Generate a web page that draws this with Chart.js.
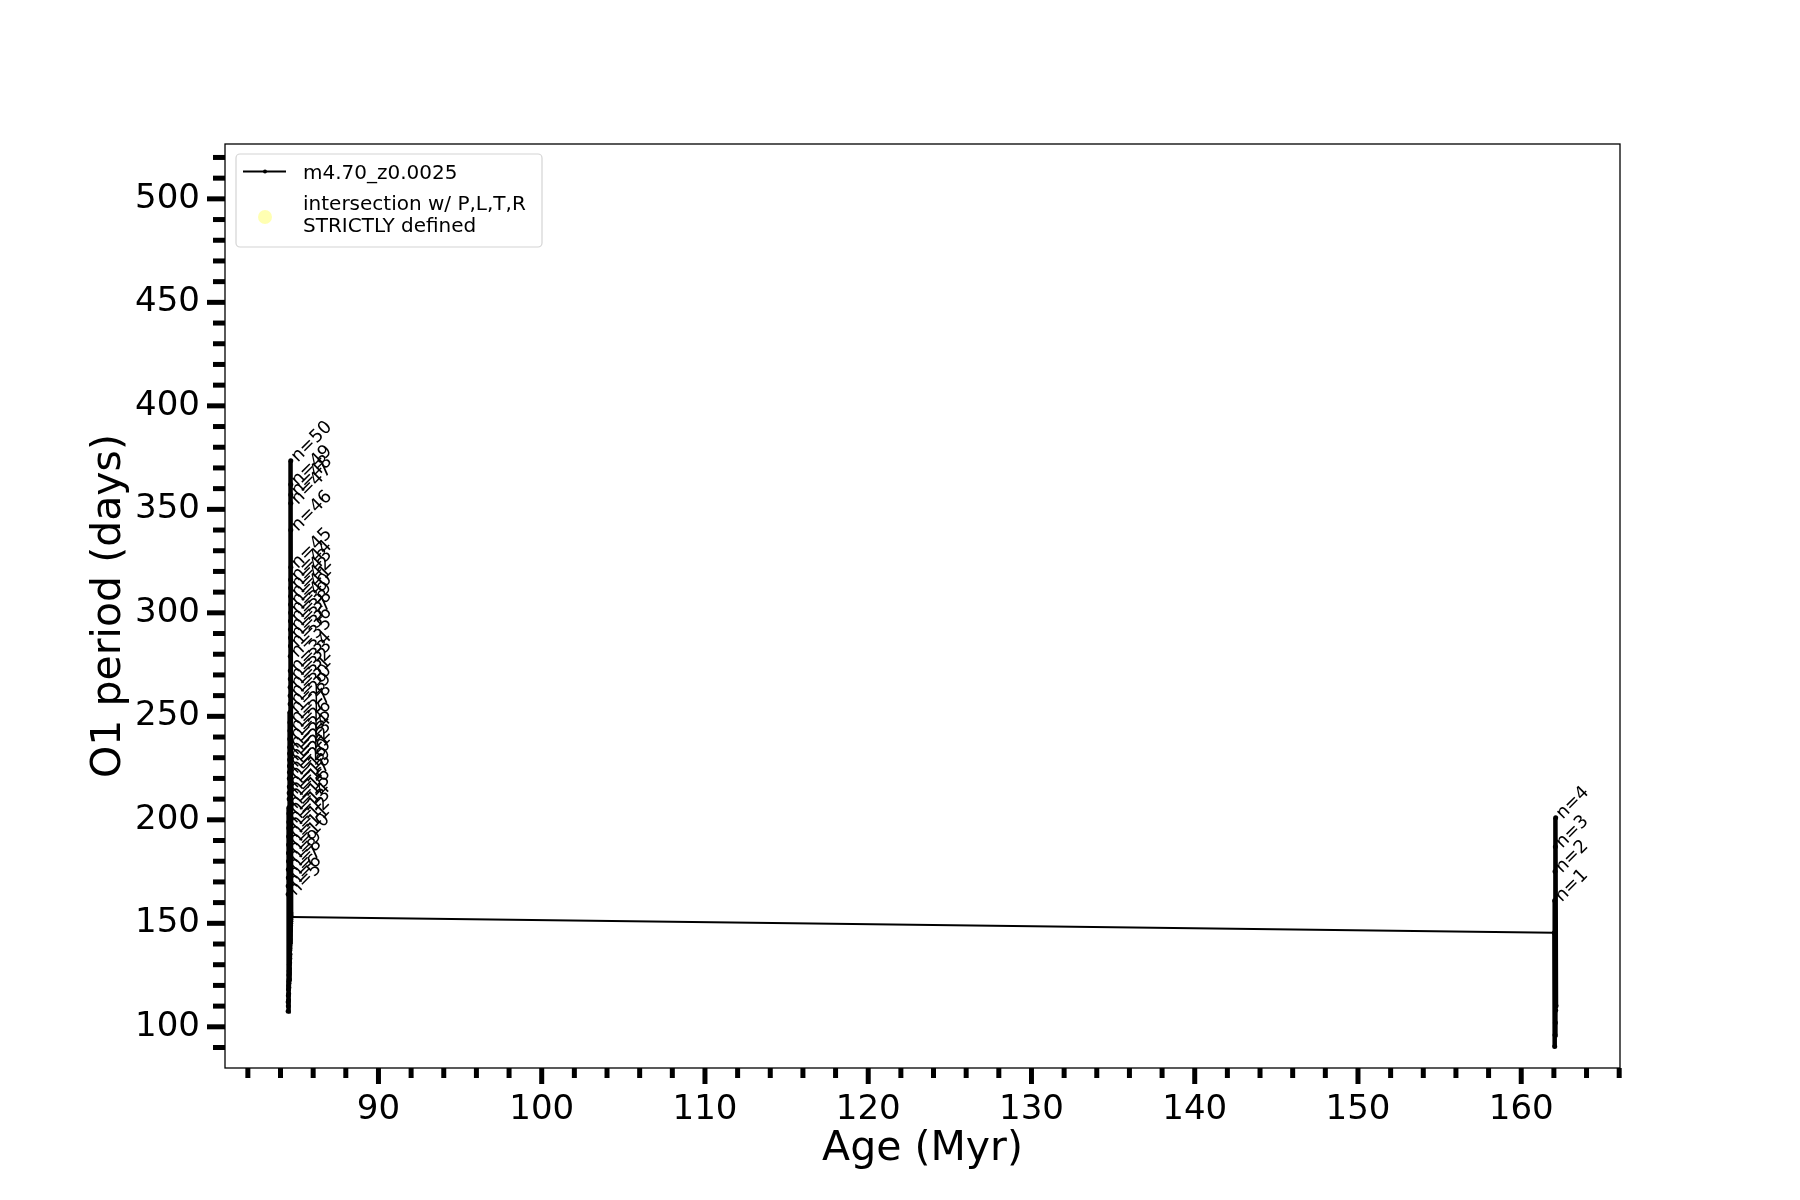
<!DOCTYPE html>
<html>
<head>
<meta charset="utf-8">
<title>O1 period vs age</title>
<script src="https://cdn.jsdelivr.net/npm/chart.js@4.4.1/dist/chart.umd.min.js"></script>
<style>
  html, body { margin: 0; padding: 0; background: #fff; }
  #wrap { width: 1800px; height: 1200px; }
</style>
</head>
<body>
<div id="wrap"><canvas id="periodChart" width="1800" height="1200"></canvas></div>
<script>
// pulse data, left group (n=5..50)
const leftN = [5, 6, 7, 8, 9, 10, 11, 12, 13, 14, 15, 16, 17, 18, 19, 20, 21, 22, 23, 24, 25, 26, 27,
  28, 29, 30, 31, 32, 33, 34, 35, 36, 37, 38, 39, 40, 41, 42, 43, 44, 45, 46, 47, 48, 49, 50];
const leftAge = [84.47, 84.47, 84.48, 84.48, 84.49, 84.49, 84.50, 84.50, 84.51, 84.51,
  84.52, 84.52, 84.53, 84.53, 84.54, 84.54, 84.55, 84.55, 84.56, 84.56,
  84.57, 84.57, 84.58, 84.58, 84.58, 84.59, 84.59, 84.59, 84.60, 84.60,
  84.60, 84.61, 84.61, 84.61, 84.61, 84.62, 84.62, 84.62, 84.62, 84.62,
  84.63, 84.63, 84.63, 84.63, 84.63, 84.63];
const leftTrough = [107.5, 112, 110, 115, 113, 118, 116, 120, 119, 122,
  121, 125, 123, 127, 126, 130, 128, 132, 131, 134,
  133, 137, 135, 139, 138, 141, 140, 143, 142, 145,
  144, 147, 146, 148, 147, 150, 149, 151, 150, 152,
  151, 153, 152, 154, 153, 155];
const leftPeak = [164, 168, 172, 176, 180, 184, 188, 192, 196, 199,
  203, 206, 210, 213, 216, 220, 223, 226, 229, 232,
  235, 239, 243, 247, 252, 256, 260, 264, 268, 272,
  279, 284, 288, 292, 296, 300, 304, 308, 312, 316,
  322, 340, 353, 357, 362, 373.5];
const leftEnd = [84.65, 153];

// right group (n=1..4)
const rightN = [1, 2, 3, 4];
const rightStart = [162.03, 145.5];
const rightAge = [162.05, 162.07, 162.09, 162.11];
const rightTrough = [90.5, 96, 102, 108];
const rightPeak = [161, 175, 187, 201];
const rightEnd = [162.13, 110];

// axes
const xRange = [80.6, 166.05];
const yRange = [80.1, 526.5];
const xMajor = [90, 100, 110, 120, 130, 140, 150, 160];
const xMinor = [82, 84, 86, 88, 92, 94, 96, 98, 102, 104, 106, 108, 112, 114, 116, 118, 122, 124, 126, 128,
  132, 134, 136, 138, 142, 144, 146, 148, 152, 154, 156, 158, 162, 164, 166];
const yMajor = [100, 150, 200, 250, 300, 350, 400, 450, 500];
const yMinor = [90, 110, 120, 130, 140, 160, 170, 180, 190, 210, 220, 230, 240, 260, 270, 280, 290,
  310, 320, 330, 340, 360, 370, 380, 390, 410, 420, 430, 440, 460, 470, 480, 490, 510, 520];

const FONT = '"DejaVu Sans", "Liberation Sans", sans-serif';

// build the track in order: left pulses, jump, right pulses
const trackPoints = [];
leftAge.forEach(function(a, i) {
    trackPoints.push({ x: a, y: leftTrough[i] });
    trackPoints.push({ x: a, y: leftPeak[i] });
});
trackPoints.push({ x: leftEnd[0], y: leftEnd[1] });
trackPoints.push({ x: rightStart[0], y: rightStart[1] });
rightAge.forEach(function(a, i) {
    trackPoints.push({ x: a, y: rightTrough[i] });
    trackPoints.push({ x: a, y: rightPeak[i] });
});
trackPoints.push({ x: rightEnd[0], y: rightEnd[1] });

const pulseLabels = [];
leftN.forEach(function(n, i) { pulseLabels.push({ n: n, x: leftAge[i], y: leftPeak[i] }); });
rightN.forEach(function(n, i) { pulseLabels.push({ n: n, x: rightAge[i], y: rightPeak[i] }); });

const sortedX = xMajor.concat(xMinor).sort(function(a, b) { return a - b; });
const sortedY = yMajor.concat(yMinor).sort(function(a, b) { return a - b; });

// ticks, frame, labels, titles and legend
const decorPlugin = {
    id: 'decor',
    afterDatasetsDraw: function(chart) {
        const c = chart.ctx, xs = chart.scales.x, ys = chart.scales.y;
        c.save();
        c.fillStyle = '#000';
        c.font = '18px ' + FONT;
        c.textAlign = 'left';
        c.textBaseline = 'alphabetic';
        pulseLabels.forEach(function(p) {
            const px = xs.getPixelForValue(p.x), py = ys.getPixelForValue(p.y);
            c.save();
            c.translate(px + 7, py + 2);
            c.rotate(-Math.PI / 4);
            c.fillText('n=' + p.n, 0, 0);
            c.restore();
        });
        c.restore();
    },
    afterDraw: function(chart) {
        const c = chart.ctx, a = chart.chartArea;
        const xs = chart.scales.x, ys = chart.scales.y;
        c.save();
        c.strokeStyle = '#000';
        c.lineWidth = 1.3;
        c.strokeRect(a.left, a.top, a.right - a.left, a.bottom - a.top);

        c.lineWidth = 5;
        c.lineCap = 'butt';
        function tick(x1, y1, x2, y2) {
            c.beginPath(); c.moveTo(x1, y1); c.lineTo(x2, y2); c.stroke();
        }
        xMajor.forEach(function(v) { const p = xs.getPixelForValue(v); tick(p, a.bottom, p, a.bottom + 16); });
        xMinor.forEach(function(v) { const p = xs.getPixelForValue(v); tick(p, a.bottom, p, a.bottom + 10); });
        yMajor.forEach(function(v) { const p = ys.getPixelForValue(v); tick(a.left, p, a.left - 18, p); });
        yMinor.forEach(function(v) { const p = ys.getPixelForValue(v); tick(a.left, p, a.left - 12, p); });

        // axis titles
        c.fillStyle = '#000';
        c.font = '41px ' + FONT;
        c.textAlign = 'center';
        c.textBaseline = 'alphabetic';
        c.fillText('Age (Myr)', (a.left + a.right) / 2, 1160);
        c.save();
        c.translate(120, (a.top + a.bottom) / 2);
        c.rotate(-Math.PI / 2);
        c.fillText('O1 period (days)', 0, 0);
        c.restore();

        // legend
        const lx = 236, ly = 154, lw = 306, lh = 93, r = 4;
        c.beginPath();
        c.moveTo(lx + r, ly);
        c.arcTo(lx + lw, ly, lx + lw, ly + lh, r);
        c.arcTo(lx + lw, ly + lh, lx, ly + lh, r);
        c.arcTo(lx, ly + lh, lx, ly, r);
        c.arcTo(lx, ly, lx + lw, ly, r);
        c.closePath();
        c.fillStyle = 'rgba(255,255,255,0.8)';
        c.fill();
        c.strokeStyle = '#d4d4d4';
        c.lineWidth = 1.2;
        c.stroke();

        c.strokeStyle = '#000';
        c.lineWidth = 2;
        tick(243, 171.5, 286, 171.5);
        c.fillStyle = '#000';
        c.beginPath(); c.arc(265, 171.5, 2, 0, Math.PI * 2); c.fill();
        c.fillStyle = 'rgba(255,255,0,0.3)';
        c.beginPath(); c.arc(265, 217, 7, 0, Math.PI * 2); c.fill();

        c.fillStyle = '#000';
        c.font = '20px ' + FONT;
        c.textAlign = 'left';
        c.fillText(chart.data.datasets[0].label, 303, 179);
        c.fillText('intersection w/ P,L,T,R', 303, 210);
        c.fillText('STRICTLY defined', 303, 232);
        c.restore();
    }
};

const ctx = document.getElementById('periodChart').getContext('2d');
const periodChart = new Chart(ctx, {
    type: 'scatter',
    data: {
        datasets: [{
            label: 'm4.70_z0.0025',
            data: trackPoints,
            showLine: true,
            borderColor: '#000',
            borderWidth: 2,
            pointRadius: 2.5,
            pointBorderWidth: 0,
            pointBackgroundColor: '#000',
            segment: {
                // dense pulse segments look heavier than the long jump
                borderWidth: function(s) { return Math.abs(s.p1.parsed.x - s.p0.parsed.x) > 1 ? 2 : 4.5; }
            }
        }, {
            label: 'intersection w/ P,L,T,R\nSTRICTLY defined',
            data: [],
            pointRadius: 7,
            backgroundColor: 'rgba(255,255,0,0.3)'
        }]
    },
    options: {
        responsive: false,
        animation: false,
        events: [],
        layout: { padding: { left: 0, top: 144, right: 180, bottom: 0 } },
        plugins: {
            legend: { display: false },
            tooltip: { enabled: false }
        },
        scales: {
            x: {
                type: 'linear',
                min: xRange[0],
                max: xRange[1],
                afterBuildTicks: function(s) { s.ticks = sortedX.map(function(v) { return { value: v }; }); },
                afterFit: function(s) { s.height = 132; },
                border: { display: false },
                grid: { drawOnChartArea: false, tickLength: 16, tickColor: 'rgba(0,0,0,0)' },
                ticks: {
                    autoSkip: false, maxRotation: 0, minRotation: 0, padding: 6,
                    color: '#000', font: { family: FONT, size: 34 },
                    callback: function(v) { return xMajor.includes(v) ? String(v) : ''; }
                }
            },
            y: {
                type: 'linear',
                min: yRange[0],
                max: yRange[1],
                afterBuildTicks: function(s) { s.ticks = sortedY.map(function(v) { return { value: v }; }); },
                afterFit: function(s) { s.width = 225; },
                border: { display: false },
                grid: { drawOnChartArea: false, tickLength: 18, tickColor: 'rgba(0,0,0,0)' },
                ticks: {
                    autoSkip: false, padding: 7,
                    color: '#000', font: { family: FONT, size: 34 },
                    callback: function(v) { return yMajor.includes(v) ? String(v) : ''; }
                }
            }
        }
    },
    plugins: [decorPlugin]
});
</script>
</body>
</html>
